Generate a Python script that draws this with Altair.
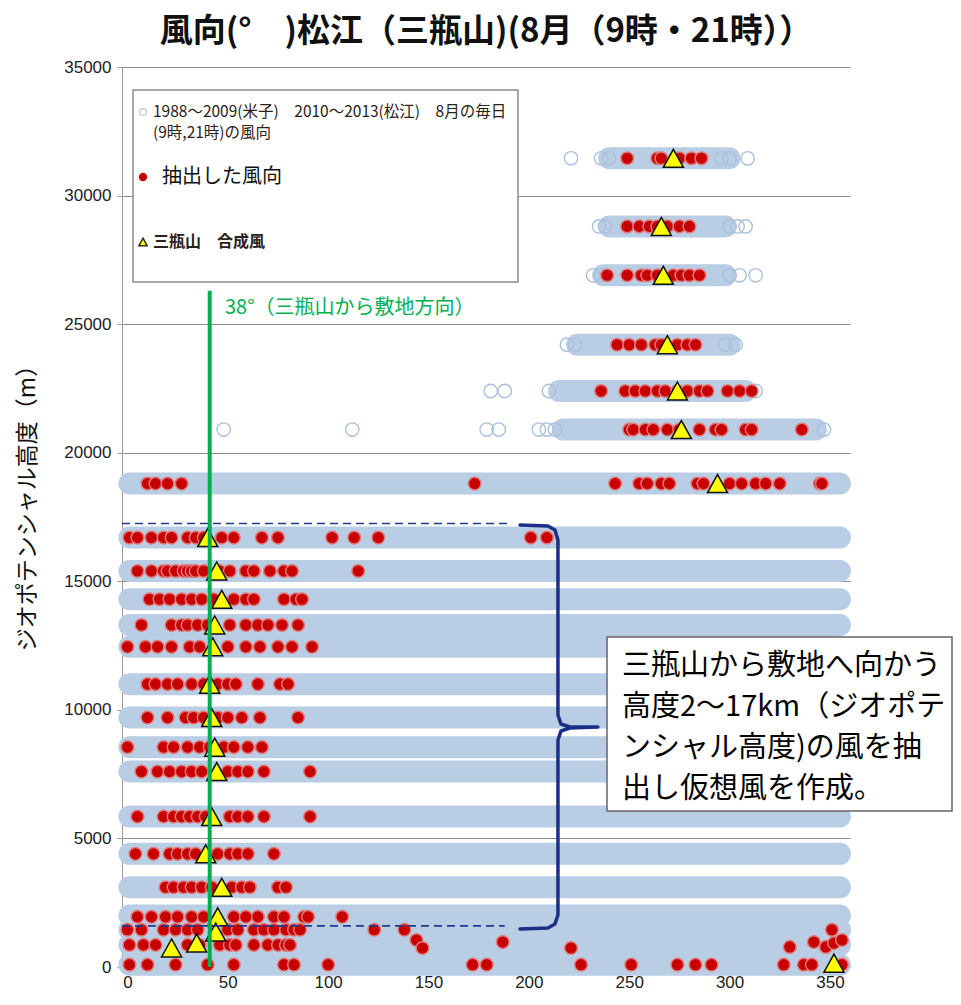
import altair as alt
import pandas as pd

# ---------------- data ----------------
# blue bands of all daily wind directions (level height, first / last direction)
band_levels = [31450, 28800, 26900, 24200, 22400, 20900, 18800, 16700, 15400, 14300, 13300, 12450,
               11000, 9700, 8550, 7600, 5850, 4400, 3100, 2000, 1450, 860, 90]
band_start = [240, 240, 237, 224, 215, 217, 1, 1, 1, 1, 1, 1,
              1, 1, 1, 1, 1, 1, 1, 1, 1, 1, 1]
band_end = [300, 298, 298, 300, 308, 343, 355, 355, 355, 355, 355, 355,
            355, 355, 355, 355, 355, 355, 355, 355, 355, 355, 355]

# isolated open (blue) circles
blue_dir = [221, 236, 240, 296, 300, 309,
            235, 238, 300, 304, 308,
            232, 236, 300, 305, 313,
            219, 223, 298, 303,
            181, 188, 210, 313,
            48, 112, 179, 185, 205, 209, 213, 347]
blue_h = [31450, 31450, 31450, 31450, 31450, 31450,
          28800, 28800, 28800, 28800, 28800,
          26900, 26900, 26900, 26900, 26900,
          24200, 24200, 24200, 24200,
          22400, 22400, 22400, 22400,
          20900, 20900, 20900, 20900, 20900, 20900, 20900, 20900]

# extracted wind directions (red), per level
red_31450 = [249, 264, 266, 275, 281, 286]
red_28800 = [249, 255, 260, 264, 269, 275, 280]
red_26900 = [239, 249, 256, 259, 264, 272, 276, 280, 285]
red_24200 = [244, 250, 256, 263, 266, 274, 279, 283]
red_22400 = [236, 248, 253, 258, 264, 268, 274, 279, 285, 289, 299, 305, 311]
red_20900 = [250, 252, 258, 262, 269, 275, 285, 293, 296, 308, 311, 336]
red_18800 = [10, 14, 20, 27, 173, 243, 255, 259, 266, 270, 284, 287, 300, 306, 313, 318, 325, 345, 346]
red_16700 = [1, 5, 12, 18, 22, 30, 34, 38, 47, 53, 67, 75, 102, 113, 125, 201, 209]
red_15400 = [5, 12, 18, 20, 24, 28, 30, 32, 34, 38, 46, 51, 59, 63, 71, 78, 82, 115]
red_14300 = [11, 16, 21, 27, 32, 37, 43, 53, 59, 63, 78, 84, 87]
red_13300 = [7, 22, 27, 30, 35, 40, 51, 59, 65, 70, 77, 85]
red_12450 = [0, 9, 15, 22, 31, 36, 50, 59, 66, 75, 82, 92]
red_11000 = [10, 14, 20, 25, 32, 38, 45, 50, 54, 65, 76, 80]
red_9700 = [10, 20, 29, 33, 38, 45, 50, 57, 66, 85]
red_8550 = [0, 18, 23, 30, 36, 41, 48, 53, 60, 67]
red_7600 = [7, 15, 21, 27, 32, 37, 50, 55, 60, 68, 91]
red_5850 = [5, 18, 23, 27, 31, 35, 39, 51, 55, 60, 68, 91]
red_4400 = [4, 13, 21, 25, 30, 34, 45, 51, 55, 60, 73]
red_3100 = [19, 23, 28, 32, 37, 42, 52, 57, 61, 75, 79]
red_1950 = [5, 12, 19, 25, 32, 38, 53, 59, 65, 73, 78, 88, 90, 107]
red_1450 = [0, 7, 18, 24, 30, 35, 50, 55, 63, 68, 73, 79, 83, 86, 123, 138, 351]
red_860 = [1, 8, 14, 30, 36, 46, 51, 54, 63, 70, 75, 79, 81]
red_90 = [1, 10, 24, 40, 53, 78, 83, 100, 172, 179, 226, 251, 274, 283, 291, 327, 337, 341, 356]
red_misc_dir = [144, 147, 187, 221, 330, 342, 348, 352, 356]
red_misc_h = [1050, 740, 970, 740, 780, 970, 780, 930, 1050]

# Sanbesan composite wind (triangles)
tri_dir = [272, 266, 267, 269, 274, 276, 294, 40, 44.5, 47, 43.5, 42.5, 41, 42, 43.5, 44.5, 42, 39, 47,
           45, 44, 34.5, 22, 352]
tri_h = [31450, 28800, 26900, 24200, 22400, 20900, 18800, 16700, 15400, 14300, 13300, 12450, 11000,
         9700, 8550, 7600, 5850, 4400, 3100, 1950, 1360, 930, 740, 150]

# annotation geometry in data units
green_dir = [41]
green_bottom = [0]
green_top = [26300]
dash_h = [17250, 1600]
dash_x0 = [-2.7, -2.7]
dash_x1 = [190, 188]
brace_dir = [195.6, 209.5, 213.0, 214.5, 214.5, 216.0, 220.5, 234.4,
             220.5, 216.0, 214.5, 214.5, 213.0, 209.5, 195.6]
brace_h = [17190, 17150, 16995, 16606, 9800, 9450, 9333, 9333,
           9295, 9178, 8828, 2022, 1672, 1517, 1478]

x_ticks = [0, 50, 100, 150, 200, 250, 300, 350]
y_ticks = [0, 5000, 10000, 15000, 20000, 25000, 30000, 35000]

title_text = "風向(°　)松江（三瓶山)(8月（9時・21時））"
y_title = "ジオポテンシャル高度（m）"
legend_1a = "1988〜2009(米子)　2010〜2013(松江)　8月の毎日"
legend_1b = "(9時,21時)の風向"
legend_2 = "抽出した風向"
legend_3 = "三瓶山　合成風"
green_label = "38°（三瓶山から敷地方向）"
note_lines = ["三瓶山から敷地へ向かう", "高度2〜17km（ジオポテ", "ンシャル高度)の風を抽", "出し仮想風を作成。"]

# ---------------- tables ----------------
red_sets = [(31450, red_31450), (28800, red_28800), (26900, red_26900), (24200, red_24200),
            (22400, red_22400), (20900, red_20900), (18800, red_18800), (16700, red_16700),
            (15400, red_15400), (14300, red_14300), (13300, red_13300), (12450, red_12450),
            (11000, red_11000), (9700, red_9700), (8550, red_8550), (7600, red_7600),
            (5850, red_5850), (4400, red_4400), (3100, red_3100), (1950, red_1950),
            (1450, red_1450), (860, red_860), (90, red_90)]
rows = []
for h, dirs in red_sets:
    for d in dirs:
        rows.append({"dir": d, "h": h})
for d, h in zip(red_misc_dir, red_misc_h):
    rows.append({"dir": d, "h": h})
red_df = pd.DataFrame(rows)

band_df = pd.DataFrame({"dir": band_start, "x1": band_end, "h": band_levels})
blue_df = pd.DataFrame({"dir": blue_dir, "h": blue_h})
tri_df = pd.DataFrame({"dir": tri_dir, "h": tri_h})
green_df = pd.DataFrame({"dir": green_dir, "h": green_bottom, "top": green_top})
dash_df = pd.DataFrame({"dir": dash_x0, "x1": dash_x1, "h": dash_h})
brace_df = pd.DataFrame({"dir": brace_dir, "h": brace_h, "o": list(range(len(brace_dir)))})

JP = "Noto Sans CJK JP"
NUM = "Liberation Sans"
BLUE = "#b9cde4"

xs = alt.Scale(domain=[-2.7, 360], nice=False, zero=False)
ys = alt.Scale(domain=[0, 35000], nice=False, zero=False)

x_axis = alt.Axis(values=x_ticks, grid=False, domain=False, ticks=False, labelFont=NUM,
                  labelFontSize=17, labelColor="#222", labelPadding=7, labelFlush=False, title=None)
y_axis = alt.Axis(values=y_ticks, grid=True, gridColor="#8c8c8c", gridWidth=1.2, domain=True,
                  domainColor="#9a9a9a", ticks=True, tickSize=5, tickColor="#9a9a9a",
                  labelFont=NUM, labelFontSize=17, labelColor="#222", labelPadding=6, format="d",
                  title=y_title, titleFont=JP, titleFontSize=23, titleFontWeight="normal",
                  titleColor="#111", titleX=-95, titleY=435, titleAngle=270, titleAlign="center",
                  titleBaseline="middle")


def X(field="dir"):
    return alt.X(f"{field}:Q", scale=xs, axis=x_axis, title=None)


def Y(field="h"):
    return alt.Y(f"{field}:Q", scale=ys, axis=y_axis, title=y_title)


bands = alt.Chart(band_df).mark_rule(strokeWidth=22, strokeCap="round", color=BLUE).encode(
    x=X(), x2="x1:Q", y=Y())

blue_pts = alt.Chart(blue_df).mark_point(shape="circle", filled=False, size=180, stroke="#aac0dc",
                                         strokeWidth=1.4, opacity=1).encode(x=X(), y=Y())

red_pts = alt.Chart(red_df).mark_point(shape="circle", filled=True, size=160, fill="#c80000",
                                       stroke="#e07a7a", strokeWidth=1.5, opacity=1, fillOpacity=1).encode(
    x=X(), y=Y())

tris = alt.Chart(tri_df).mark_point(shape="M0,-0.9L1,0.9L-1,0.9Z", filled=True, size=400, fill="#ffff00",
                                    stroke="#111", strokeWidth=1.5, opacity=1, fillOpacity=1).encode(
    x=X(), y=Y())

dashes = alt.Chart(dash_df).mark_rule(color="#1f3a8f", strokeWidth=1.6, strokeDash=[8, 5]).encode(
    x=X(), x2="x1:Q", y=Y())

green = alt.Chart(green_df).mark_rule(color="#00b050", strokeWidth=4).encode(
    x=X(), y=Y(), y2="top:Q")

brace = alt.Chart(brace_df).mark_line(color="#1b2f86", strokeWidth=3.5, strokeJoin="round",
                                      strokeCap="round").encode(x=X(), y=Y(), order="o:Q")

one = pd.DataFrame({"k": [0]})


def label(text, x, y, size, color="#111", weight="normal", font=JP, align="left"):
    return alt.Chart(one).mark_text(text=text, font=font, fontSize=size, fontWeight=weight, color=color,
                                    align=align, baseline="middle").encode(
        x=alt.value(x), y=alt.value(y))


green_txt = label(green_label, 103, 241, 20, color="#00b050")

legend_box = alt.Chart(one).mark_rect(fill="white", stroke="#8c8c8c", strokeWidth=1.5).encode(
    x=alt.value(11), x2=alt.value(396), y=alt.value(23), y2=alt.value(215))
leg_c1 = alt.Chart(one).mark_point(shape="circle", filled=False, size=45, stroke="#a9bfdc",
                                   strokeWidth=1.5).encode(x=alt.value(21), y=alt.value(45))
leg_c2 = alt.Chart(one).mark_point(shape="circle", filled=True, size=70, fill="#c80000",
                                   opacity=1).encode(x=alt.value(21), y=alt.value(110))
leg_c3 = alt.Chart(one).mark_point(shape="M0,-0.9L1,0.9L-1,0.9Z", filled=True, size=70, fill="#ffff00",
                                   stroke="#333300", strokeWidth=1.5, opacity=1).encode(
    x=alt.value(21), y=alt.value(175))
leg_t1a = label(legend_1a, 31, 45, 15.5, color="#2a2118")
leg_t1b = label(legend_1b, 31, 66, 15.5, color="#2a2118")
leg_t2 = label(legend_2, 40, 110, 20)
leg_t3 = label(legend_3, 31, 175, 16, weight="bold", color="#2a2118")

note_box = alt.Chart(one).mark_rect(fill="white", stroke="#666", strokeWidth=1.5).encode(
    x=alt.value(485), x2=alt.value(830), y=alt.value(570), y2=alt.value(744))
note_txt = [label(t, 500, 599 + 41 * i, 29, color="#000") for i, t in enumerate(note_lines)]

title = label(title_text, 364, -35, 33, weight="bold", align="center", color="#111")

chart = alt.layer(
    bands, blue_pts, red_pts, tris, dashes, green, green_txt, brace,
    legend_box, leg_c1, leg_c2, leg_c3, leg_t1a, leg_t1b, leg_t2, leg_t3,
    note_box, *note_txt, title
).properties(
    width=728, height=900,
    autosize=alt.AutoSizeParams(type="none"),
    padding={"left": 114, "top": 59, "right": 103, "bottom": 30},
    background="white",
).configure_view(stroke=None).configure_axis(
    labelFontSize=17, labelFont=NUM, labelColor="#222"
)

chart.save("out.html", embed_options={"renderer": "svg", "actions": False})
